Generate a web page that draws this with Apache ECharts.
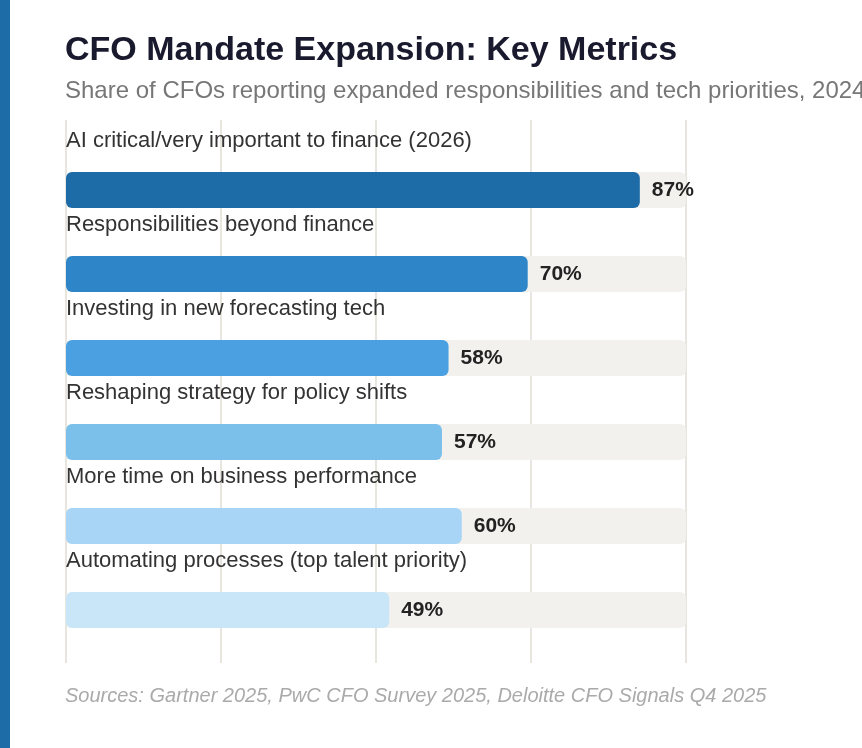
<!DOCTYPE html>
<html>
<head>
<meta charset="utf-8">
<script src="https://cdn.jsdelivr.net/npm/echarts@6/dist/echarts.min.js"></script>
<style>
html,body{margin:0;padding:0;background:#fff;overflow:hidden;}
#stripe{position:absolute;left:0;top:0;width:10px;height:748px;background:#1d6ca8;z-index:2;}
#chart{position:absolute;left:0;top:0;width:862px;height:748px;}
</style>
</head>
<body>
<div id="stripe"></div>
<div id="chart"></div>
<script>
const categories = [
  "AI critical/very important to finance (2026)",
  "Responsibilities beyond finance",
  "Investing in new forecasting tech",
  "Reshaping strategy for policy shifts",
  "More time on business performance",
  "Automating processes (top talent priority)"
];
const values = [87, 70, 58, 57, 60, 49];
const barColors = ["#1d6ca8", "#2e86c9", "#4aa0e0", "#7bbfeb", "#a8d5f5", "#c8e6f8"];
const axisMax = 94;
const axisInterval = 23.5;

const chart = echarts.init(document.getElementById('chart'), null, {renderer: 'canvas'});
const font = "Liberation Sans";

chart.setOption({
  backgroundColor: '#ffffff',
  animation: false,
  title: [
    {text: 'CFO Mandate Expansion: Key Metrics', left: 60, top: 29,
     textStyle: {fontFamily: font, fontSize: 34, fontWeight: 'bold', color: '#1a1a2e'}},
    {text: 'Share of CFOs reporting expanded responsibilities and tech priorities, 2024–2026', left: 60, top: 74,
     textStyle: {fontFamily: font, fontSize: 24, fontWeight: 'normal', color: '#777777'}},
    {text: 'Sources: Gartner 2025, PwC CFO Survey 2025, Deloitte CFO Signals Q4 2025', left: 60, top: 681,
     textStyle: {fontFamily: font, fontSize: 20, fontWeight: 'normal', fontStyle: 'italic', color: '#aaaaaa'}}
  ],
  grid: [
    {left: 66, right: 176, top: 148, bottom: 96},
    {left: 66, right: 176, top: 120, bottom: 85}
  ],
  xAxis: [
    {gridIndex: 0, type: 'value', min: 0, max: axisMax, interval: axisInterval,
     axisLine: {show: false}, axisTick: {show: false}, axisLabel: {show: false}, splitLine: {show: false}},
    {gridIndex: 1, type: 'value', min: 0, max: axisMax, interval: axisInterval,
     axisLine: {show: false}, axisTick: {show: false}, axisLabel: {show: false},
     splitLine: {show: true, lineStyle: {color: '#e8e4de', width: 2}}}
  ],
  yAxis: [
    {gridIndex: 0, type: 'category', data: categories, inverse: true,
     axisLine: {show: false}, axisTick: {show: false}, axisLabel: {show: false}, splitLine: {show: false}},
    {gridIndex: 1, type: 'category', data: categories, inverse: true,
     axisLine: {show: false}, axisTick: {show: false}, axisLabel: {show: false}, splitLine: {show: false}}
  ],
  series: [
    {type: 'bar', xAxisIndex: 1, yAxisIndex: 1, data: [], silent: true},
    {type: 'bar', xAxisIndex: 0, yAxisIndex: 0, barWidth: 36, barGap: '-100%', silent: true, z: 2,
     data: categories.map(() => axisMax),
     itemStyle: {color: '#f2f1ee', borderRadius: 6},
     label: {show: true, position: [0, -31], align: 'left', verticalAlign: 'middle',
       formatter: p => categories[p.dataIndex],
       fontFamily: font, fontSize: 22, color: '#333333'}},
    {type: 'bar', xAxisIndex: 0, yAxisIndex: 0, barWidth: 36, barGap: '-100%', z: 3,
     data: values.map((v, i) => ({value: v, itemStyle: {color: barColors[i]}})),
     itemStyle: {borderRadius: 6},
     label: {show: true, position: 'right', distance: 12, formatter: p => p.value + '%',
       fontFamily: font, fontSize: 21, fontWeight: 'bold', color: '#222222'}}
  ]
});
</script>
</body>
</html>
